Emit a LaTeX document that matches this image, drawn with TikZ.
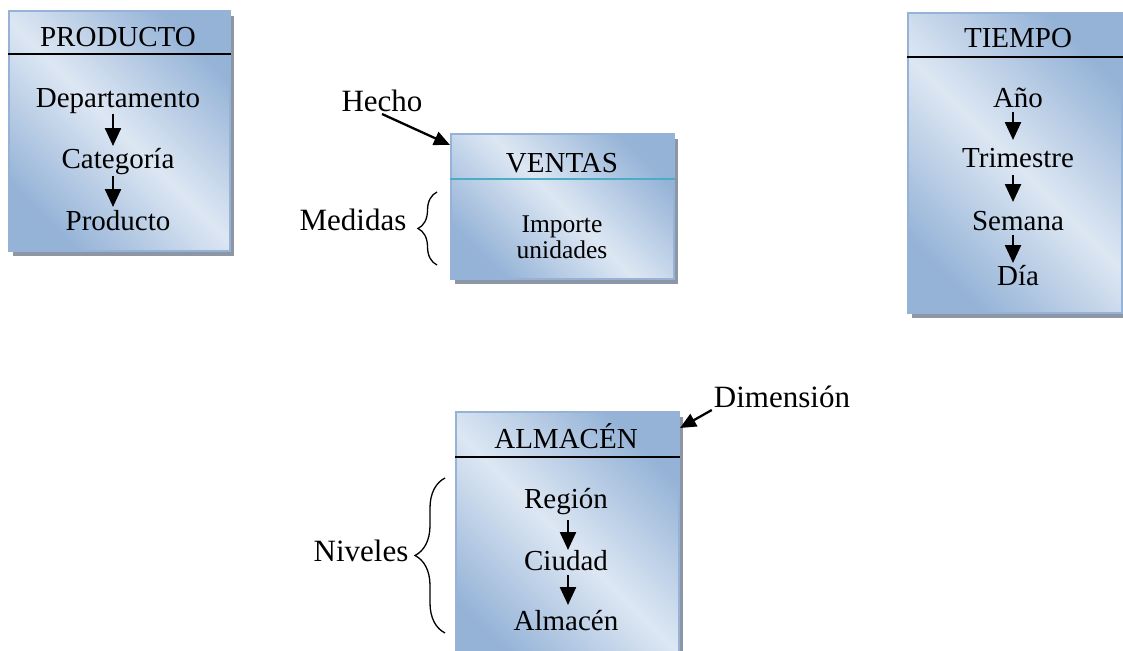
\documentclass[tikz,border=0pt]{standalone}
\usepackage{fontspec}
\setmainfont{Liberation Serif}
\usetikzlibrary{arrows.meta,shadows,decorations.pathreplacing}
\definecolor{bdark}{RGB}{149,179,215}
\definecolor{blight}{RGB}{221,231,243}
\definecolor{bedge}{RGB}{150,178,214}
\definecolor{bshadow}{RGB}{140,150,165}
\definecolor{hdrteal}{RGB}{75,172,198}
\begin{document}
\begin{tikzpicture}[x=1pt,y=-1pt,
  tbox/.style={draw=bedge, line width=2pt,
    top color=bdark, bottom color=bdark, middle color=blight, shading angle=-45,
    drop shadow={shadow xshift=4pt, shadow yshift=-5pt, fill=bshadow, opacity=1},
    anchor=north west, inner sep=0pt},
  txt/.style={font=\fontsize{29}{34}\selectfont, inner sep=0pt, anchor=base},
  small/.style={font=\fontsize{25.5}{30}\selectfont, inner sep=0pt, anchor=base},
  lbl/.style={font=\fontsize{31}{36}\selectfont, inner sep=0pt, anchor=base},
  hdr/.style={line width=1.8pt, black},
  harr/.style={line width=2.4pt, -{Triangle[width=16pt,length=18pt]}},
  ptr/.style={line width=2.3pt, -{Triangle[width=14pt,length=16pt]}},
  brc/.style={line width=1.3pt, decorate}
]
\useasboundingbox (0,0) rectangle (1123,650);

% ---------- PRODUCTO dimension ----------
\node[tbox, minimum width=221pt, minimum height=240pt] (pbox) at (8,10) {};
\draw[hdr] ([yshift=-44pt]pbox.north west) -- ([yshift=-44pt]pbox.north east);
\node[txt] (ptitle) at (118,47) {PRODUCTO};
\node[txt] (dep) at (118,108) {Departamento};
\node[txt] (cat) at (118,168) {Categoría};
\node[txt] (prod) at (118,230) {Producto};
\draw[harr] ([xshift=-5pt,yshift=-6pt]dep.base) -- ([xshift=-5pt,yshift=22pt]cat.base);
\draw[harr] ([xshift=-5pt,yshift=-8pt]cat.base) -- ([xshift=-5pt,yshift=23pt]prod.base);

% ---------- TIEMPO dimension ----------
\node[tbox, minimum width=214pt, minimum height=300pt] (tbox) at (907,12) {};
\draw[hdr] ([yshift=-45pt]tbox.north west) -- ([yshift=-45pt]tbox.north east);
\node[txt] (ttitle) at (1018,48) {TIEMPO};
\node[txt] (ano) at (1018,108) {Año};
\node[txt] (tri) at (1018,167) {Trimestre};
\node[txt] (sem) at (1018,230) {Semana};
\node[txt] (dia) at (1018,285) {Día};
\draw[harr] ([xshift=-5pt,yshift=-4pt]ano.base) -- ([xshift=-5pt,yshift=27pt]tri.base);
\draw[harr] ([xshift=-5pt,yshift=-8pt]tri.base) -- ([xshift=-5pt,yshift=28pt]sem.base);
\draw[harr] ([xshift=-5pt,yshift=-5pt]sem.base) -- ([xshift=-5pt,yshift=22pt]dia.base);

% ---------- VENTAS fact ----------
\node[tbox, minimum width=223pt, minimum height=145pt] (vbox) at (450,133) {};
\draw[line width=1.8pt, hdrteal] ([yshift=-46pt]vbox.north west) -- ([yshift=-46pt]vbox.north east);
\node[txt] (vtitle) at (562,172) {VENTAS};
\node[small] (imp) at (562,232) {Importe};
\node[small] (uni) at (562,258) {unidades};

\node[lbl] (hecho) at (382,112) {Hecho};
\draw[ptr] ([yshift=-2pt]hecho.base) -- ([yshift=-12pt]vbox.north west);

\node[lbl] (med) at (353,230) {Medidas};
\draw[brc, decoration={brace, amplitude=19pt}] (437,265) -- (437,192);

% ---------- ALMACEN dimension ----------
\node[tbox, minimum width=223pt, minimum height=260pt] (abox) at (455,411) {};
\draw[hdr] ([yshift=-46pt]abox.north west) -- ([yshift=-46pt]abox.north east);
\node[txt] (atitle) at (566,448) {ALMACÉN};
\node[txt] (reg) at (566,508) {Región};
\node[txt] (ciu) at (566,570) {Ciudad};
\node[txt] (alm) at (566,630) {Almacén};
\draw[harr] ([xshift=2pt,yshift=-12pt]reg.base) -- ([xshift=2pt,yshift=20pt]ciu.base);
\draw[harr] ([xshift=2pt,yshift=-5pt]ciu.base) -- ([xshift=2pt,yshift=25pt]alm.base);

\node[lbl] (dim) at (782,407) {Dimensión};
\draw[ptr] ([xshift=-2pt,yshift=-3pt]dim.base west) -- ([yshift=-17pt]abox.north east);

\node[lbl] (niv) at (361,561) {Niveles};
\draw[brc, decoration={brace, amplitude=30pt}] (445,633) -- (445,478);
\end{tikzpicture}
\end{document}
